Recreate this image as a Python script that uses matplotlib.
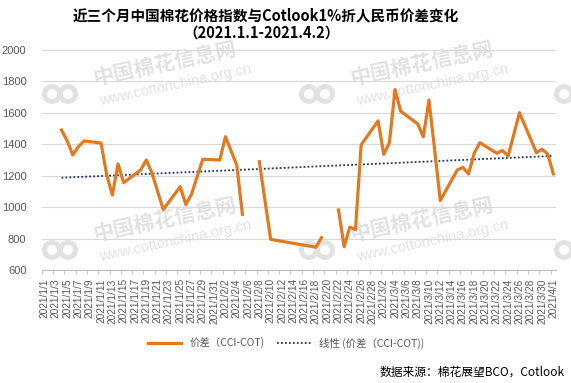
import matplotlib
matplotlib.use('Agg')
import matplotlib.pyplot as plt
import numpy as np
import pandas as pd
from matplotlib.lines import Line2D
from matplotlib.patches import Circle

# trading days (blank cells on the Sunday/Saturday make-up days break the line)
trade_dates = ['2021-01-04', '2021-01-05', '2021-01-06', '2021-01-07', '2021-01-08',
               '2021-01-11', '2021-01-12', '2021-01-13', '2021-01-14', '2021-01-15',
               '2021-01-18', '2021-01-19', '2021-01-20', '2021-01-21', '2021-01-22',
               '2021-01-25', '2021-01-26', '2021-01-27', '2021-01-28', '2021-01-29',
               '2021-02-01', '2021-02-02', '2021-02-03', '2021-02-04', '2021-02-05',
               '2021-02-07', '2021-02-08', '2021-02-09', '2021-02-10', '2021-02-18',
               '2021-02-19', '2021-02-20', '2021-02-22', '2021-02-23', '2021-02-24',
               '2021-02-25', '2021-02-26', '2021-03-01', '2021-03-02', '2021-03-03',
               '2021-03-04', '2021-03-05', '2021-03-08', '2021-03-09', '2021-03-10',
               '2021-03-11', '2021-03-12', '2021-03-15', '2021-03-16', '2021-03-17',
               '2021-03-18', '2021-03-19', '2021-03-22', '2021-03-23', '2021-03-24',
               '2021-03-25', '2021-03-26', '2021-03-29', '2021-03-30', '2021-03-31',
               '2021-04-01']
spread = [1491, 1423, 1332, 1385, 1421,
          1408, 1205, 1077, 1275, 1156,
          1236, 1300, 1218, 1100, 985,
          1130, 1017, 1082, 1195, 1305,
          1300, 1448, 1358, 1268, 954,
          np.nan, 1289, 1040, 795, 745,
          806, np.nan, 982, 748, 873,
          857, 1396, 1549, 1336, 1410,
          1748, 1610, 1530, 1448, 1682,
          1365, 1042, 1236, 1253, 1211,
          1343, 1410, 1343, 1360, 1326,
          1462, 1601, 1347, 1368, 1338,
          1212]

axis_start = '2021-01-01'
axis_end = '2021-04-01'
y_ticks = [600, 800, 1000, 1200, 1400, 1600, 1800, 2000]

title_1 = '近三个月中国棉花价格指数与Cotlook1%折人民币价差变化'
title_2 = '（2021.1.1-2021.4.2）'
series_name = '价差（CCI-COT)'
trend_name = '线性 (价差（CCI-COT))'
source_text = '数据来源：棉花展望BCO，Cotlook'

cjk = ['Noto Sans CJK SC', 'DejaVu Sans']
plt.rcParams['font.family'] = ['Liberation Sans', 'Noto Sans CJK SC']

W, H = 571, 383
line_color = '#E3791F'
trend_color = '#1F3864'
grey_text = '#595959'

fig = plt.figure(figsize=(W / 100, H / 100), dpi=100)

# faint site watermark behind the chart
wm_color = '#e2e2e2'
for cx in (165, 422):
    for cy in (64, 220):
        fig.text(cx / W, 1 - cy / H, '中国棉花信息网', family=cjk, fontsize=15, fontweight='bold',
                 color=wm_color, rotation=12, ha='center', va='center', zorder=-2)
        fig.text((cx + 10) / W, 1 - (cy + 21) / H, 'www.cottonchina.org.cn', fontsize=10.5,
                 color=wm_color, rotation=12, ha='center', va='center', zorder=-2)
for lx in (60, 317, 572):
    for ly in (94, 250):
        for dx in (-8, 8):
            fig.patches.append(Circle(((lx + dx) / 100, (H - ly) / 100), 0.075,
                                      transform=fig.dpi_scale_trans, fill=False,
                                      lw=3.5, ec=wm_color, zorder=-2))

ax = fig.add_axes([41.7 / W, 1 - 270 / H, 514.5 / W, 220 / H])
ax.set_facecolor('none')
ax.set_zorder(1)

start = pd.Timestamp(axis_start)
x_idx = np.array((pd.to_datetime(trade_dates) - start).days, dtype=float)
y_val = np.array(spread, dtype=float)

ax.plot(x_idx, y_val, color=line_color, lw=2.3, zorder=3)

valid = ~np.isnan(y_val)
coef = np.polyfit(x_idx[valid], y_val[valid], 1)
trend_x = np.array([x_idx[valid][0], x_idx[valid][-1]])
ax.plot(trend_x, np.polyval(coef, trend_x), color=trend_color, lw=1.3,
        linestyle=(0, (1, 1.2)), zorder=2)

n_days = (pd.Timestamp(axis_end) - start).days
ax.set_xlim(-0.5, n_days + 0.5)
ax.set_ylim(y_ticks[0], y_ticks[-1])
ax.set_yticks(y_ticks)

label_days = pd.date_range(axis_start, axis_end, freq='2D')
ax.set_xticks((label_days - start).days)
ax.set_xticklabels([f'{d.year}/{d.month}/{d.day}' for d in label_days], rotation=90)
ax.set_xticks(np.arange(-0.5, n_days + 1, 2), minor=True)

for side in ('top', 'right', 'left'):
    ax.spines[side].set_visible(False)
ax.spines['bottom'].set_color('#bfbfbf')
ax.grid(axis='y', color='#d9d9d9', lw=0.8)
ax.set_axisbelow(True)

ax.tick_params(axis='y', length=0, pad=11, labelcolor=grey_text, labelsize=8)
ax.tick_params(axis='x', which='major', length=0, pad=6, labelcolor=grey_text, labelsize=7.3)
ax.tick_params(axis='x', which='minor', length=3, color='#bfbfbf')

handles = [Line2D([], [], color=line_color, lw=2.3),
           Line2D([], [], color=trend_color, lw=1.3, linestyle=(0, (1, 1.2)))]
leg = fig.legend(handles, [series_name, trend_name], loc='center',
                 bbox_to_anchor=(286 / W, 1 - 343 / H), ncol=2, frameon=False,
                 prop={'family': cjk, 'size': 7.5}, handlelength=3.2, columnspacing=1.2)
for t in leg.get_texts():
    t.set_color(grey_text)

fig.text(266 / W, 1 - 15 / H, title_1, family=cjk, fontsize=10.5, fontweight='bold',
         ha='center', va='center')
fig.text(262 / W, 1 - 33 / H, title_2, family=cjk, fontsize=10.5, fontweight='bold',
         ha='center', va='center')
fig.text(565 / W, 1 - 372 / H, source_text, family=cjk, fontsize=8.5,
         ha='right', va='center')

fig.savefig('out.png', dpi=100)
